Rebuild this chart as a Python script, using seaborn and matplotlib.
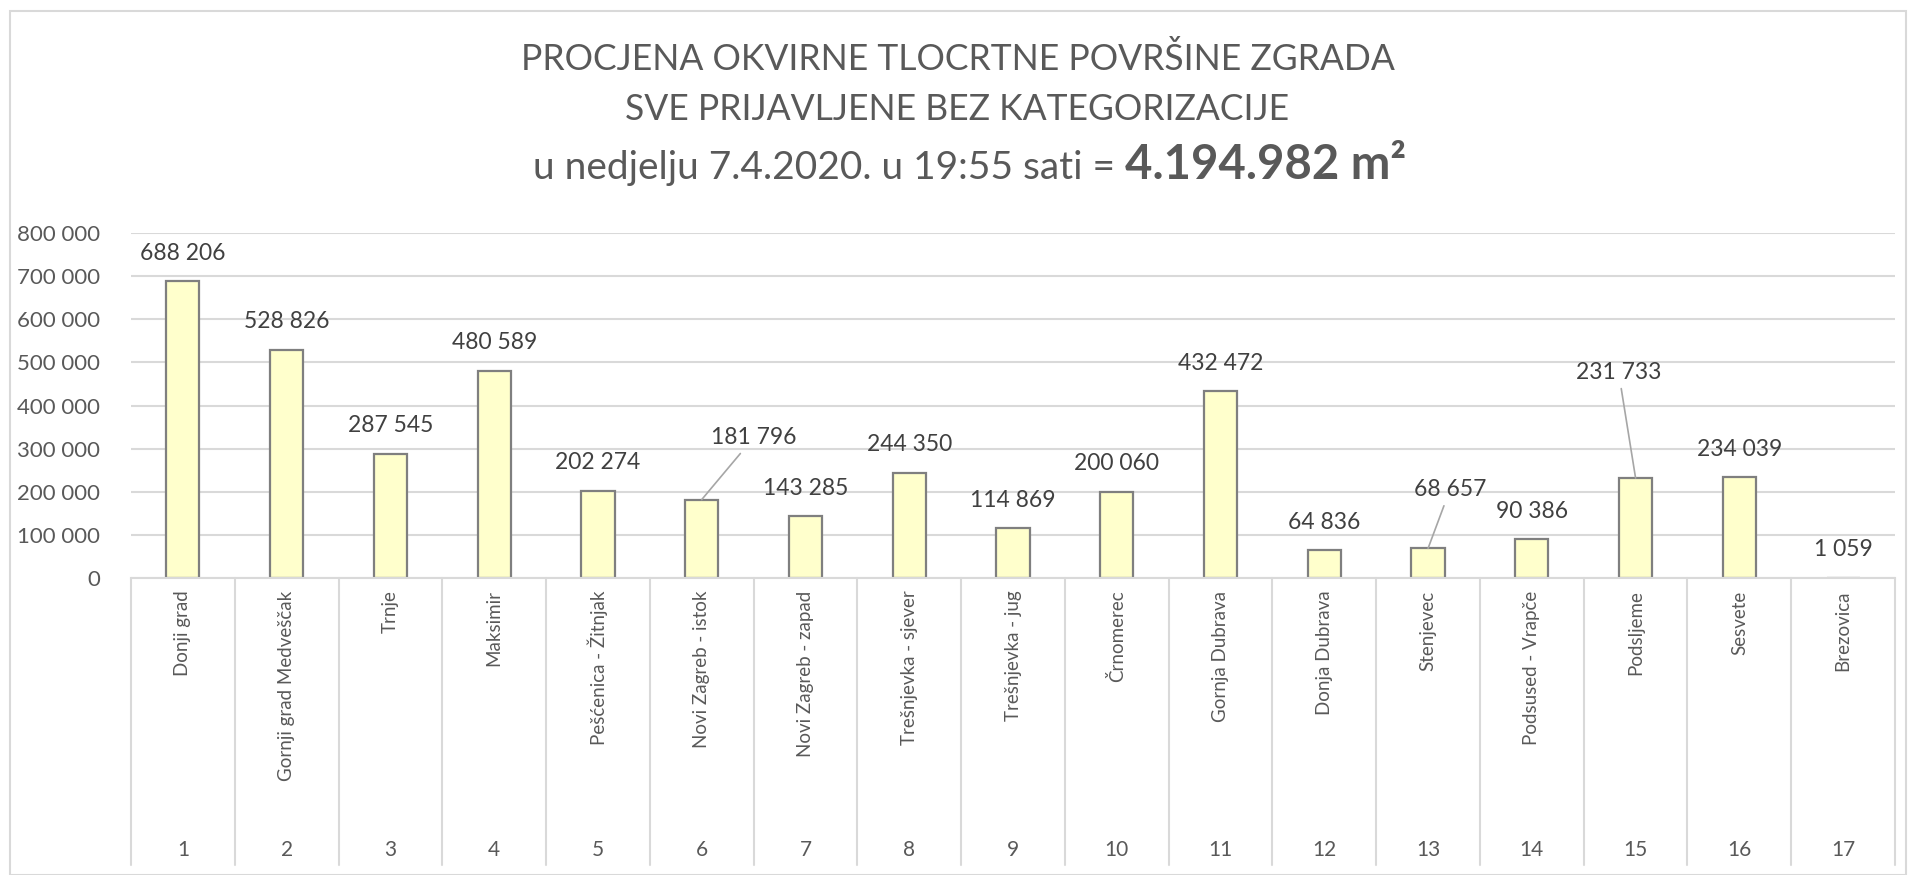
import matplotlib
matplotlib.use("Agg")
import matplotlib.pyplot as plt
import matplotlib.transforms as mtransforms
from matplotlib.patches import Rectangle
import seaborn as sns
import pandas as pd

# ---- data ----
districts = [
    "Donji grad", "Gornji grad Medveščak", "Trnje", "Maksimir",
    "Pešćenica - Žitnjak", "Novi Zagreb - istok", "Novi Zagreb - zapad",
    "Trešnjevka - sjever", "Trešnjevka - jug", "Črnomerec", "Gornja Dubrava",
    "Donja Dubrava", "Stenjevec", "Podsused - Vrapče", "Podsljeme",
    "Sesvete", "Brezovica",
]
district_no = [1, 2, 3, 4, 5, 6, 7, 8, 9, 10, 11, 12, 13, 14, 15, 16, 17]
areas = [688206, 528826, 287545, 480589, 202274, 181796, 143285, 244350,
         114869, 200060, 432472, 64836, 68657, 90386, 231733, 234039, 1059]
y_ticks = [0, 100000, 200000, 300000, 400000, 500000, 600000, 700000, 800000]

title_line1 = "PROCJENA OKVIRNE TLOCRTNE POVRŠINE ZGRADA"
title_line2 = "SVE PRIJAVLJENE BEZ KATEGORIZACIJE"
title_line3 = "u nedjelju 7.4.2020. u 19:55 sati = "
title_total = "4.194.982 m²"

# label placement (pixel offsets from bar top); leader lines where moved
label_offsets = {5: (52, 62), 12: (22, 59), 14: (-17, 106)}
default_offset = (0, 28)

df = pd.DataFrame({"district": districts, "area": areas})

TEXT = "#595959"
GRID = "#D9D9D9"

sns.set_theme(style="white")
plt.rcParams["font.family"] = ["Lato", "DejaVu Sans"]


def fmt(v):
    return f"{v:,}".replace(",", " ")


fig = plt.figure(figsize=(19.15, 8.75), dpi=100)
W, H = 1915, 875
ax = fig.add_axes([131 / W, 1 - 578 / H, (1895 - 131) / W, (578 - 233) / H])

sns.barplot(data=df, x="district", y="area", color="#FFFFCC", saturation=1,
            edgecolor="#7F7F7F", linewidth=1.6, width=0.32, ax=ax, zorder=3)

ax.set_ylim(0, 800000)
ax.set_xlim(-0.5, len(districts) - 0.5)
ax.set_yticks(y_ticks)
ax.set_yticklabels([fmt(t) for t in y_ticks], fontsize=16, color=TEXT)
ax.tick_params(axis="y", length=0, pad=22)
ax.grid(axis="y", color=GRID, linewidth=1.5, zorder=0)
ax.grid(axis="x", visible=False)
for s in ["left", "right", "top"]:
    ax.spines[s].set_visible(False)
ax.spines["bottom"].set_color(GRID)
ax.spines["bottom"].set_linewidth(1.5)
ax.spines["bottom"].set_zorder(4)
ax.set_xlabel("")
ax.set_ylabel("")

# category names (rotated) as tick labels
ax.set_xticks(range(len(districts)))
ax.set_xticklabels(districts, rotation=90, fontsize=13.5, color=TEXT,
                   ha="center", va="top")
ax.tick_params(axis="x", length=0, pad=9)

# number row and separators below the axis
trans = mtransforms.blended_transform_factory(ax.transData, ax.transAxes)
sep_bottom = (578 - 865) / (578 - 233)
num_y = (578 - 850) / (578 - 233)
for i, n in enumerate(district_no):
    ax.text(i, num_y, str(n), transform=trans, ha="center", va="center",
            fontsize=15, color=TEXT, clip_on=False)
for i in range(len(districts) + 1):
    ax.plot([i - 0.5, i - 0.5], [0, sep_bottom], transform=trans,
            color=GRID, linewidth=1.5, clip_on=False)

# data labels
for i, v in enumerate(areas):
    dx, dy = label_offsets.get(i, default_offset)
    props = None
    if i in label_offsets:
        props = dict(arrowstyle="-", color="#A6A6A6", lw=1.2,
                     shrinkA=2, shrinkB=0)
    ax.annotate(fmt(v), xy=(i, v), xytext=(dx, dy),
                textcoords="offset pixels", ha="center", va="center",
                fontsize=16.5, color="#404040", arrowprops=props,
                annotation_clip=False)

# title
fig.text(0.5, 1 - 59 / H, title_line1, ha="center", va="center",
         fontsize=25.6, color=TEXT)
fig.text(0.5, 1 - 110 / H, title_line2, ha="center", va="center",
         fontsize=25.6, color=TEXT)
t_reg = fig.text(0, 0, title_line3, ha="left", va="baseline",
                 fontsize=28, color=TEXT)
t_bold = fig.text(0, 0, title_total, ha="left", va="baseline",
                  fontsize=34, fontweight="bold", color=TEXT)
r = fig.canvas.get_renderer()
w1 = t_reg.get_window_extent(r).width
w2 = t_bold.get_window_extent(r).width
x0 = (970 - (w1 + w2) / 2) / W
base = 1 - 179 / H
t_reg.set_position((x0, base))
t_bold.set_position((x0 + w1 / W, base))

# chart border
fig.patches.append(Rectangle((10 / W, 0.5 / H), (1906 - 10) / W, (865 - 1) / H,
                             transform=fig.transFigure, fill=False,
                             edgecolor=GRID, linewidth=1.5))

fig.savefig("out.png", dpi=100, facecolor="white")
